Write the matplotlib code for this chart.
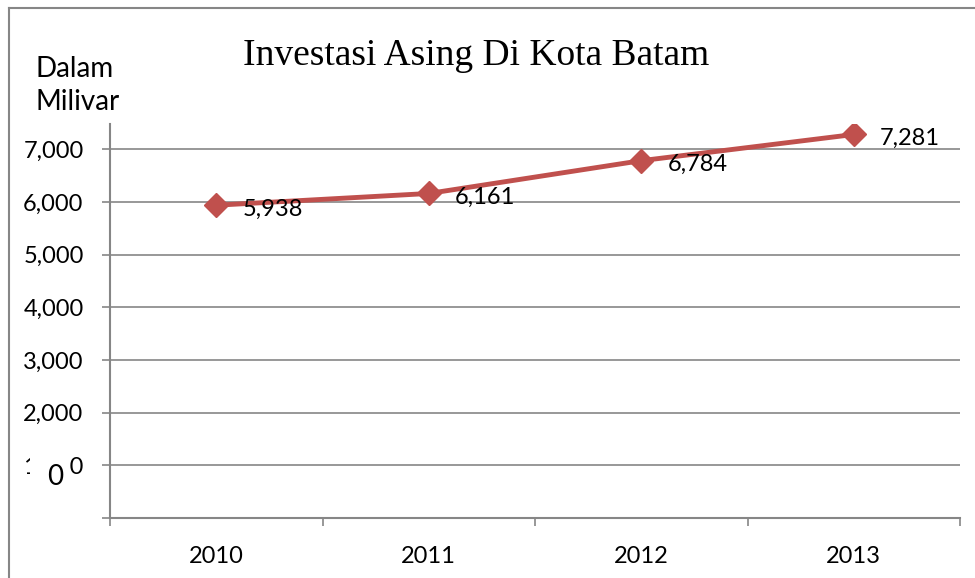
import matplotlib
matplotlib.use('Agg')
import matplotlib.pyplot as plt
from matplotlib.lines import Line2D
from matplotlib.patches import Rectangle

years = ['2010', '2011', '2012', '2013']
investasi = [5938, 6161, 6784, 7281]
y_ticks = [0, 1000, 2000, 3000, 4000, 5000, 6000, 7000]
y_labels = ['', '1,000', '2,000', '3,000', '4,000', '5,000', '6,000', '7,000']

plt.rcParams['font.family'] = ['Lato', 'DejaVu Sans']
grey = '#868686'
red = '#C0504D'
W, H = 975, 578

fig = plt.figure(figsize=(9.75, 5.78), dpi=100)
ax = fig.add_axes([110 / W, 1 - 518 / H, 850 / W, 394 / H])

x = list(range(len(years)))
ax.plot(x, investasi, color=red, lw=3.5, marker='D', markersize=12, zorder=3)
for xi, v in zip(x, investasi):
    ax.annotate(f'{v:,}', (xi, v), xytext=(19, -3), textcoords='offset points',
                va='center', ha='left', fontsize=17)

ax.set_xlim(-0.5, 3.5)
ax.set_ylim(0, 7480)
ax.set_yticks(y_ticks)
ax.set_yticklabels(y_labels, fontsize=17)
ax.set_xticks([-0.5, 0.5, 1.5, 2.5, 3.5])
ax.set_xticklabels([])
ax.set_xticks(x, minor=True)
ax.set_xticklabels(years, minor=True, fontsize=17)
ax.tick_params(axis='x', which='minor', length=0, pad=20)
ax.tick_params(axis='x', which='major', length=6, width=1.2, color=grey)
ax.tick_params(axis='y', which='major', length=6, width=1.2, color=grey, pad=13)

for y in y_ticks[1:]:
    ax.axhline(y, color=grey, lw=1.2, zorder=1)
for s in ['top', 'right']:
    ax.spines[s].set_visible(False)
for s in ['left', 'bottom']:
    ax.spines[s].set_color(grey)
    ax.spines[s].set_linewidth(1.5)

# outer frame of the chart area
fig.add_artist(Line2D([9 / W, 9 / W], [0, 1 - 8 / H], color=grey, lw=1.5))
fig.add_artist(Line2D([9 / W, 1], [1 - 8 / H, 1 - 8 / H], color=grey, lw=1.5))

fig.text(476 / W, 1 - 56 / H, 'Investasi Asing Di Kota Batam', ha='center', va='center',
         fontsize=27, family='Liberation Serif')
fig.text(36 / W, 1 - 77 / H, 'Dalam', ha='left', va='baseline', fontsize=20)
fig.text(36 / W, 1 - 110 / H, 'Milivar', ha='left', va='baseline', fontsize=20)

# stray "0" box sitting over the 1,000 label
fig.add_artist(Rectangle((30 / W, 1 - 497 / H), 39 / W, 46 / H, transform=fig.transFigure,
                         facecolor='white', edgecolor='none', zorder=5))
fig.text(55 / W, 1 - 477 / H, '0', ha='center', va='center', fontsize=20, zorder=6)

plt.savefig('out.png')
